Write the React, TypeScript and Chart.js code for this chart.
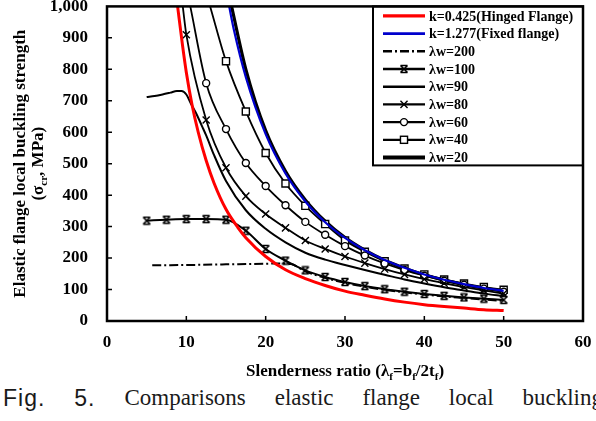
import React, { useEffect, useRef } from "react";
import { Chart, registerables } from "chart.js";

Chart.register(...registerables);

type Pt = [number, number];

// Axis ranges and tick values
const X_TICKS = [0, 10, 20, 30, 40, 50, 60];
const Y_TICKS = [0, 100, 200, 300, 400, 500, 600, 700, 800, 900, 1000];

// Slenderness ratio λf (x) vs. elastic flange buckling strength σcr in MPa (y)
const HINGED: Pt[] = [
  [8.9, 1000], [9.5, 880], [10, 790], [10.7, 690], [11.5, 600], [12.5, 510],
  [13.5, 438], [15, 355], [16.5, 297], [17.5, 265], [20, 205], [22.5, 163],
  [25, 135], [27.5, 113], [30, 95], [32.5, 82], [35, 70], [37.5, 60],
  [40, 52], [42.5, 46], [45, 41], [47.5, 36], [50, 33],
];
const FIXED: Pt[] = [
  [15.4, 1000], [16, 925], [17.5, 775], [20, 594], [22.5, 469], [25, 380],
  [27.5, 314], [30, 264], [32.5, 225], [35, 194], [37.5, 169], [40, 148],
  [42.5, 131], [45, 117], [47.5, 105], [50, 96],
];
const LW200: Pt[] = [
  [5.7, 177], [10, 178], [15, 180], [20, 182], [22, 183], [23.2, 181],
  [25, 158], [27.5, 137], [30, 121], [32.5, 109], [35, 99], [37.5, 91],
  [40, 84], [42.5, 78], [45, 73], [47.5, 68], [50, 64],
];
const LW100: Pt[] = [
  [5, 319], [7.5, 322], [10, 324], [12.5, 324], [15, 322], [17.5, 287],
  [20, 229], [22.5, 192], [25, 161], [27.5, 140], [30, 124], [32.5, 111],
  [35, 101], [37.5, 93], [40, 86], [42.5, 80], [45, 75], [47.5, 71], [50, 67],
];
const LW90: Pt[] = [
  [5, 712], [6, 715], [7, 720], [8, 726], [8.8, 731], [9.4, 731], [10, 720],
  [10.6, 690], [11.2, 662], [12, 618], [12.5, 590], [13.5, 527], [15, 445],
  [17.5, 352], [20, 293], [22.5, 250], [25, 217], [27.5, 195], [30, 178],
  [32.5, 162], [35, 147], [37.5, 132], [40, 119], [42.5, 107], [45, 97],
  [47.5, 87], [50, 79],
];
const LW80: Pt[] = [
  [9.55, 1000], [10, 910], [12.5, 639], [15, 487], [17.5, 397], [20, 340],
  [22.5, 296], [25, 256], [27.5, 229], [30, 205], [32.5, 184], [35, 165],
  [37.5, 148], [40, 133], [42.5, 120], [45, 108], [47.5, 97], [50, 87],
];
const LW60: Pt[] = [
  [10.5, 1000], [12.5, 756], [15, 610], [17.5, 502], [20, 429], [22.5, 368],
  [25, 315], [27.5, 274], [30, 238], [32.5, 208], [35, 183], [37.5, 162],
  [40, 144], [42.5, 128], [45, 115], [47.5, 103], [50, 93],
];
const LW40: Pt[] = [
  [13, 1000], [15, 826], [17.5, 666], [20, 534], [22.5, 437], [25, 366],
  [27.5, 308], [30, 256], [32.5, 220], [35, 190], [37.5, 167], [40, 148],
  [42.5, 132], [45, 119], [47.5, 108], [50, 99],
];
const LW20: Pt[] = [
  [15.7, 1000], [17.5, 800], [20, 605], [22.5, 476], [25, 385], [27.5, 317],
  [30, 265], [32.5, 225], [35, 193], [37.5, 168], [40, 147], [42.5, 130],
  [45, 116], [47.5, 104], [50, 95],
];

const LEGEND_LABELS = [
  "k=0.425(Hinged Flange)",
  "k=1.277(Fixed flange)",
  "λw=200",
  "λw=100",
  "λw=90",
  "λw=80",
  "λw=60",
  "λw=40",
  "λw=20",
];
const SERIES = [HINGED, FIXED, LW200, LW100, LW90, LW80, LW60, LW40, LW20];

const CAPTION_LEAD = ["Fig.", "5."];
const CAPTION_WORDS = ["Comparisons", "elastic", "flange", "local", "buckling"];

const SERIF = "'Liberation Serif', 'Times New Roman', serif";
const SANS = "'Liberation Sans', Arial, sans-serif";

type Marker = "none" | "bowtie" | "crossRot" | "circle" | "rect";
interface Look {
  color: string;
  width: number;
  dash: number[];
  marker: Marker;
  radius: number;
}

const LOOKS: Look[] = [
  { color: "#ff0000", width: 3, dash: [], marker: "none", radius: 0 },
  { color: "#0000cc", width: 2.2, dash: [], marker: "none", radius: 0 },
  { color: "#000000", width: 2, dash: [9, 3, 2, 3], marker: "none", radius: 0 },
  { color: "#000000", width: 2, dash: [], marker: "bowtie", radius: 4 },
  { color: "#000000", width: 2, dash: [], marker: "none", radius: 0 },
  { color: "#000000", width: 1.8, dash: [], marker: "crossRot", radius: 5 },
  { color: "#000000", width: 1.8, dash: [], marker: "circle", radius: 3.5 },
  { color: "#000000", width: 1.8, dash: [], marker: "rect", radius: 5 },
  { color: "#000000", width: 3.2, dash: [], marker: "none", radius: 0 },
];

function makeBowtie(): HTMLCanvasElement {
  const c = document.createElement("canvas");
  c.width = 10;
  c.height = 10;
  const g = c.getContext("2d")!;
  g.strokeStyle = "#000";
  g.lineWidth = 1.6;
  g.beginPath();
  g.moveTo(1.5, 1.5); g.lineTo(8.5, 1.5);
  g.moveTo(1.5, 8.5); g.lineTo(8.5, 8.5);
  g.moveTo(1.5, 1.5); g.lineTo(8.5, 8.5);
  g.moveTo(8.5, 1.5); g.lineTo(1.5, 8.5);
  g.stroke();
  return c;
}

type Seg = { t: string; sub?: boolean };

function drawRich(ctx: CanvasRenderingContext2D, segs: Seg[], cx: number, base: number, size: number) {
  const main = `bold ${size}px ${SERIF}`;
  const small = `bold ${Math.round(size * 0.62)}px ${SERIF}`;
  let total = 0;
  for (const s of segs) {
    ctx.font = s.sub ? small : main;
    total += ctx.measureText(s.t).width;
  }
  let x = cx - total / 2;
  ctx.textAlign = "left";
  ctx.textBaseline = "alphabetic";
  for (const s of segs) {
    ctx.font = s.sub ? small : main;
    ctx.fillText(s.t, x, s.sub ? base + size * 0.22 : base);
    x += ctx.measureText(s.t).width;
  }
}

function drawMarker(ctx: CanvasRenderingContext2D, m: Marker, x: number, y: number, r: number, bowtie: HTMLCanvasElement) {
  ctx.save();
  ctx.strokeStyle = "#000";
  ctx.fillStyle = "#fff";
  ctx.lineWidth = 1.4;
  ctx.setLineDash([]);
  if (m === "bowtie") {
    ctx.drawImage(bowtie, x - bowtie.width / 2, y - bowtie.height / 2);
  } else if (m === "crossRot") {
    const o = Math.cos(Math.PI / 4) * r;
    ctx.beginPath();
    ctx.moveTo(x - o, y - o); ctx.lineTo(x + o, y + o);
    ctx.moveTo(x + o, y - o); ctx.lineTo(x - o, y + o);
    ctx.stroke();
  } else if (m === "circle") {
    ctx.beginPath();
    ctx.arc(x, y, r, 0, Math.PI * 2);
    ctx.fill();
    ctx.stroke();
  } else if (m === "rect") {
    const s = Math.SQRT1_2 * r;
    ctx.fillRect(x - s, y - s, 2 * s, 2 * s);
    ctx.strokeRect(x - s, y - s, 2 * s, 2 * s);
  }
  ctx.restore();
}

// scales keep a fixed footprint so the plot area sits where the layout wants it
function fixBox(s: any, dim: "width" | "height", size: number) {
  s[dim] = size;
  s.paddingTop = 0;
  s.paddingBottom = 0;
  s.paddingLeft = 0;
  s.paddingRight = 0;
}

export default function App() {
  const ref = useRef<HTMLCanvasElement | null>(null);

  useEffect(() => {
    const canvas = ref.current;
    if (!canvas) return;
    const bowtie = makeBowtie();

    const datasets = SERIES.map((pts, i) => {
      const look = LOOKS[i];
      const style: any = look.marker === "bowtie" ? bowtie : look.marker === "none" ? "circle" : look.marker;
      return {
        label: LEGEND_LABELS[i],
        data: pts.map(([x, y]) => ({ x, y })),
        borderColor: look.color,
        borderWidth: look.width,
        borderDash: look.dash,
        pointStyle: style,
        pointRadius: pts.map(([, y]) => (look.marker === "none" || y >= 1000 ? 0 : look.radius)),
        pointBackgroundColor: "#ffffff",
        pointBorderColor: "#000000",
        pointBorderWidth: 1.4,
        cubicInterpolationMode: "monotone" as const,
        fill: false,
      };
    });

    const framePlugin = {
      id: "frameAndLegend",
      afterDraw(chart: any) {
        const { ctx, chartArea: a, scales } = chart;
        ctx.save();

        // legend box in the upper right corner
        const bw = 210;
        const bh = 159;
        const bl = a.right - bw;
        const bt = a.top;
        ctx.fillStyle = "#fff";
        ctx.fillRect(bl, bt, bw, bh);
        ctx.strokeStyle = "#000";
        ctx.lineWidth = 2;
        ctx.strokeRect(bl, bt, bw, bh);
        LEGEND_LABELS.forEach((label, i) => {
          const look = LOOKS[i];
          const y = bt + 9.5 + i * 17.7;
          const x1 = bl + 10;
          const x2 = bl + 52;
          ctx.save();
          ctx.strokeStyle = look.color;
          ctx.lineWidth = i === 8 ? 4 : look.width + 0.4;
          ctx.setLineDash(look.dash);
          ctx.beginPath();
          ctx.moveTo(x1, y);
          ctx.lineTo(x2, y);
          ctx.stroke();
          ctx.restore();
          if (look.marker !== "none") drawMarker(ctx, look.marker, (x1 + x2) / 2, y, look.radius, bowtie);
          ctx.fillStyle = "#000";
          ctx.font = `bold 14px ${SERIF}`;
          ctx.textAlign = "left";
          ctx.textBaseline = "middle";
          ctx.fillText(label, bl + 56, y + 1);
        });

        // plot frame with inward ticks
        ctx.strokeStyle = "#000";
        ctx.lineWidth = 2.5;
        ctx.strokeRect(a.left, a.top, a.right - a.left, a.bottom - a.top);
        ctx.lineWidth = 1.5;
        ctx.beginPath();
        X_TICKS.slice(1, -1).forEach((v) => {
          const px = scales.x.getPixelForValue(v);
          ctx.moveTo(px, a.bottom);
          ctx.lineTo(px, a.bottom - 5);
        });
        Y_TICKS.slice(1, -1).forEach((v) => {
          const py = scales.y.getPixelForValue(v);
          ctx.moveTo(a.left, py);
          ctx.lineTo(a.left + 5, py);
        });
        ctx.stroke();

        // axis titles
        ctx.fillStyle = "#000";
        drawRich(
          ctx,
          [
            { t: "Slenderness ratio (λ" }, { t: "f", sub: true }, { t: "=b" }, { t: "f", sub: true },
            { t: "/2t" }, { t: "f", sub: true }, { t: ")" },
          ],
          (a.left + a.right) / 2,
          376,
          17
        );
        ctx.save();
        ctx.translate(19, (a.top + a.bottom) / 2);
        ctx.rotate(-Math.PI / 2);
        drawRich(ctx, [{ t: "Elastic flange local buckling strength" }], 0, 6, 17);
        ctx.restore();
        ctx.save();
        ctx.translate(37, (a.top + a.bottom) / 2);
        ctx.rotate(-Math.PI / 2);
        drawRich(ctx, [{ t: "(σ" }, { t: "cr", sub: true }, { t: ", MPa)" }], 0, 6, 17);
        ctx.restore();

        ctx.restore();
      },
    };

    const tickFont = { family: SERIF, size: 17, weight: "bold" as const };

    const chart = new Chart(canvas, {
      type: "line",
      data: { datasets: datasets as any },
      options: {
        responsive: false,
        devicePixelRatio: 1,
        animation: false,
        locale: "en-US",
        events: [],
        layout: { padding: { top: 4, right: 13, left: 0, bottom: 0 } },
        plugins: { legend: { display: false }, tooltip: { enabled: false } },
        scales: {
          x: {
            type: "linear",
            min: X_TICKS[0],
            max: X_TICKS[X_TICKS.length - 1],
            ticks: { stepSize: 10, font: tickFont, color: "#000", padding: 11, maxRotation: 0 },
            grid: { display: true, drawOnChartArea: false, drawTicks: false },
            border: { display: false },
            afterFit: (s: any) => fixBox(s, "height", 61),
          },
          y: {
            type: "linear",
            min: Y_TICKS[0],
            max: Y_TICKS[Y_TICKS.length - 1],
            ticks: { stepSize: 100, font: tickFont, color: "#000", padding: 19 },
            grid: { display: true, drawOnChartArea: false, drawTicks: false },
            border: { display: false },
            afterFit: (s: any) => fixBox(s, "width", 107),
          },
        },
      },
      plugins: [framePlugin],
    });

    return () => chart.destroy();
  }, []);

  return (
    <div
      style={{
        position: "absolute",
        left: 0,
        top: 0,
        width: 596,
        height: 421,
        overflow: "hidden",
        background: "#fff",
      }}
    >
      <canvas ref={ref} width={596} height={382} style={{ display: "block", width: 596, height: 382 }} />
      <div
        style={{
          position: "absolute",
          left: 3,
          top: 385,
          width: 600,
          display: "flex",
          justifyContent: "space-between",
          fontFamily: SERIF,
          fontSize: 23,
          lineHeight: "26px",
          whiteSpace: "nowrap",
          color: "#1a1a1a",
        }}
      >
        {CAPTION_LEAD.map((w) => (
          <span key={w} style={{ fontFamily: SANS, letterSpacing: 1 }}>
            {w}
          </span>
        ))}
        {CAPTION_WORDS.map((w) => (
          <span key={w}>{w}</span>
        ))}
      </div>
    </div>
  );
}
